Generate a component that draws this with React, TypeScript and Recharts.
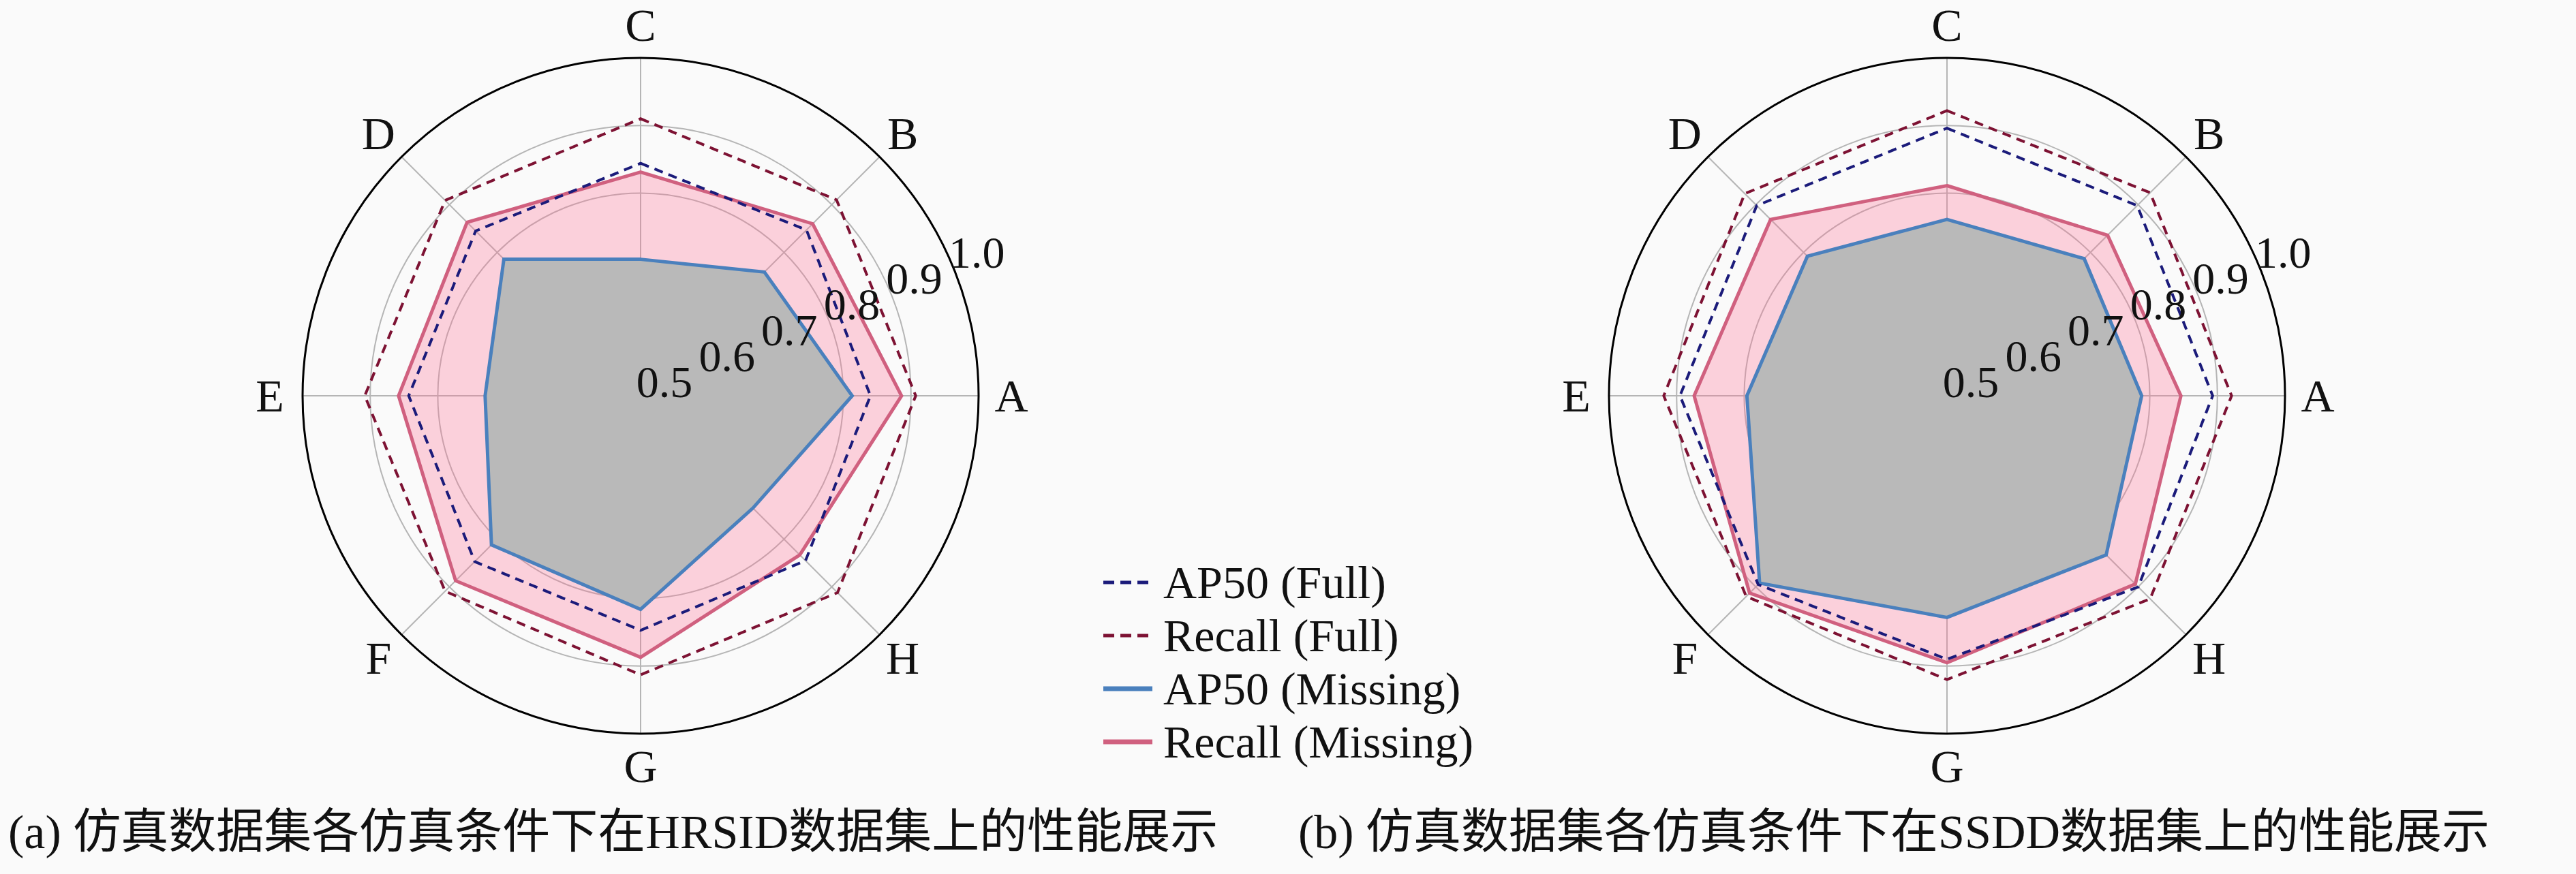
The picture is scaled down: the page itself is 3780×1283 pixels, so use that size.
import React from 'react';
import { RadarChart, Radar, PolarGrid, PolarAngleAxis, PolarRadiusAxis } from 'recharts';

// axis categories (A on the right, then counter-clockwise)
const categories = ['A', 'B', 'C', 'D', 'E', 'F', 'G', 'H'];
const radiusTicks = [0.5, 0.6, 0.7, 0.8, 0.9, 1.0];

// (a) HRSID
const hrsidAp50Full = [0.84, 0.847, 0.844, 0.845, 0.843, 0.847, 0.847, 0.845];
const hrsidRecallFull = [0.907, 0.91, 0.91, 0.909, 0.908, 0.909, 0.913, 0.912];
const hrsidAp50Missing = [0.813, 0.759, 0.702, 0.786, 0.73, 0.812, 0.816, 0.735];
const hrsidRecallMissing = [0.886, 0.86, 0.831, 0.863, 0.858, 0.887, 0.887, 0.833];

// (b) SSDD
const ssddAp50Full = [0.893, 0.898, 0.896, 0.898, 0.895, 0.895, 0.89, 0.9];
const ssddRecallFull = [0.921, 0.925, 0.922, 0.923, 0.919, 0.92, 0.92, 0.925];
const ssddAp50Missing = [0.788, 0.787, 0.761, 0.792, 0.796, 0.892, 0.828, 0.833];
const ssddRecallMissing = [0.846, 0.836, 0.811, 0.869, 0.874, 0.913, 0.895, 0.894];

// recharts walks clockwise from the top: C, B, A, H, G, F, E, D
const drawOrder = [2, 1, 0, 7, 6, 5, 4, 3];

const legendItems = [
  { name: 'AP50 (Full)', color: '#1b1b7a', dashed: true },
  { name: 'Recall (Full)', color: '#7d1233', dashed: true },
  { name: 'AP50 (Missing)', color: '#4a80bd', dashed: false },
  { name: 'Recall (Missing)', color: '#d0607f', dashed: false },
];

const captions = [
  '(a) 仿真数据集各仿真条件下在HRSID数据集上的性能展示',
  '(b) 仿真数据集各仿真条件下在SSDD数据集上的性能展示',
];

const SERIF = '"Liberation Serif", "DejaVu Serif", serif';
const CAPTION_FONT = '"Liberation Serif", "Noto Sans CJK SC", serif';
const OUTER = 496;
const PANEL_W = 1880;
const PANEL_H = 1200;
const CY = 581;

function buildRows(ap50Full: number[], recallFull: number[], ap50Missing: number[], recallMissing: number[]) {
  return drawOrder.map((i) => ({
    axis: categories[i],
    ap50Full: ap50Full[i],
    recallFull: recallFull[i],
    ap50Missing: ap50Missing[i],
    recallMissing: recallMissing[i],
  }));
}

const AngleTick = (props: any) => {
  const { x, y, payload } = props;
  return (
    <text x={x} y={y} textAnchor="middle" dominantBaseline="central" fontFamily={SERIF} fontSize={68} fill="#111">
      {payload.value}
    </text>
  );
};

const RadiusTick = (props: any) => {
  const { x, y, payload } = props;
  return (
    <text x={x + 35} y={y - 21} textAnchor="middle" dominantBaseline="central" fontFamily={SERIF} fontSize={66} fill="#111">
      {Number(payload.value).toFixed(1)}
    </text>
  );
};

function RadarPanel({ rows, cx, left }: { rows: any[]; cx: number; left: number }) {
  return (
    <div style={{ position: 'absolute', left, top: 0 }}>
      <RadarChart
        width={PANEL_W}
        height={PANEL_H}
        data={rows}
        cx={cx}
        cy={CY}
        outerRadius={OUTER}
        margin={{ top: 0, right: 0, bottom: 0, left: 0 }}
      >
        <PolarGrid gridType="circle" stroke="#b5b5b5" strokeWidth={2} />
        <PolarGrid gridType="circle" radialLines={false} polarRadius={[OUTER]} stroke="#000" strokeWidth={3} />
        <PolarAngleAxis dataKey="axis" tick={AngleTick} tickLine={false} axisLine={false} tickSize={48} />
        <PolarRadiusAxis
          type="number"
          angle={22.5}
          domain={[0.5, 1]}
          tickCount={radiusTicks.length}
          ticks={radiusTicks as any}
          allowDataOverflow
          axisLine={false}
          tickLine={false}
          tick={RadiusTick}
        />
        <Radar
          dataKey="recallMissing"
          stroke="#d0607f"
          strokeWidth={5}
          fill="#ff6f96"
          fillOpacity={0.3}
          dot={false}
          isAnimationActive={false}
        />
        <Radar
          dataKey="ap50Missing"
          stroke="#4a80bd"
          strokeWidth={5}
          fill="#b9b9b9"
          fillOpacity={1}
          dot={false}
          isAnimationActive={false}
        />
        <Radar
          dataKey="ap50Full"
          stroke="#1b1b7a"
          strokeWidth={4}
          strokeDasharray="13 9"
          fill="none"
          dot={false}
          isAnimationActive={false}
        />
        <Radar
          dataKey="recallFull"
          stroke="#7d1233"
          strokeWidth={4}
          strokeDasharray="13 9"
          fill="none"
          dot={false}
          isAnimationActive={false}
        />
      </RadarChart>
    </div>
  );
}

export default function App() {
  const hrsidRows = buildRows(hrsidAp50Full, hrsidRecallFull, hrsidAp50Missing, hrsidRecallMissing);
  const ssddRows = buildRows(ssddAp50Full, ssddRecallFull, ssddAp50Missing, ssddRecallMissing);

  return (
    <div style={{ position: 'absolute', left: 0, top: 0, width: 3780, height: 1283, background: '#fafafa', overflow: 'hidden' }}>
      <RadarPanel rows={hrsidRows} cx={940} left={0} />
      <RadarPanel rows={ssddRows} cx={957} left={1900} />

      {/* shared legend */}
      <div style={{ position: 'absolute', left: 1615, top: 816, fontFamily: SERIF, fontSize: 68, color: '#111' }}>
        {legendItems.map((item) => (
          <div key={item.name} style={{ display: 'flex', alignItems: 'center', height: 78 }}>
            <svg width={80} height={20} style={{ marginRight: 12 }}>
              <line
                x1={4}
                y1={10}
                x2={76}
                y2={10}
                stroke={item.color}
                strokeWidth={item.dashed ? 5 : 7}
                strokeDasharray={item.dashed ? '16 9' : undefined}
              />
            </svg>
            <span style={{ lineHeight: '78px', whiteSpace: 'nowrap' }}>{item.name}</span>
          </div>
        ))}
      </div>

      {/* sub-captions */}
      <div style={{ position: 'absolute', left: 12, top: 1164, fontFamily: CAPTION_FONT, fontSize: 70, color: '#111', whiteSpace: 'nowrap' }}>
        {captions[0]}
      </div>
      <div style={{ position: 'absolute', left: 1905, top: 1164, fontFamily: CAPTION_FONT, fontSize: 70, color: '#111', whiteSpace: 'nowrap' }}>
        {captions[1]}
      </div>
    </div>
  );
}
